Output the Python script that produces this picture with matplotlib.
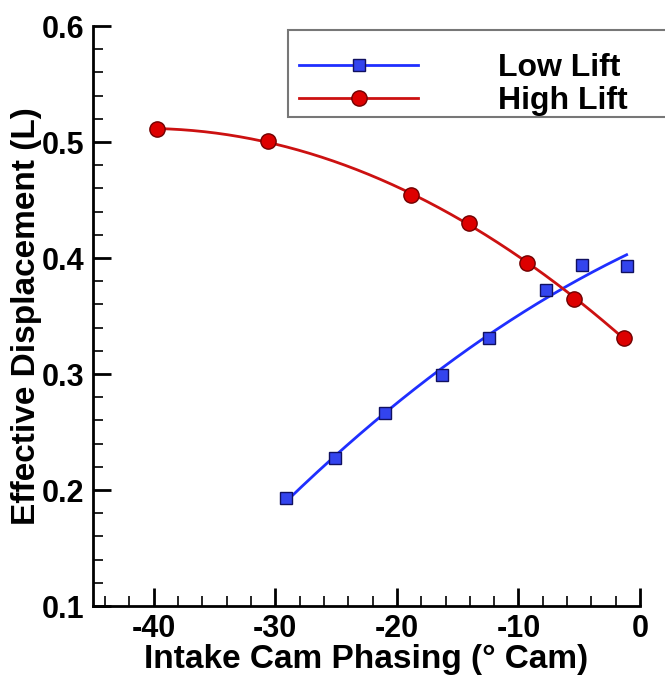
import numpy as np
import matplotlib.pyplot as plt
from matplotlib.ticker import MultipleLocator
from matplotlib.patches import Rectangle

plt.rcParams['font.family'] = ['Liberation Sans', 'DejaVu Sans']
plt.rcParams['font.weight'] = 'bold'

# Data
low_x = [-29.1, -25.1, -21.0, -16.3, -12.4, -7.7, -4.8, -1.1]
low_y = [0.193, 0.228, 0.266, 0.299, 0.331, 0.372, 0.394, 0.393]
high_x = [-39.7, -30.6, -18.8, -14.1, -9.3, -5.4, -1.3]
high_y = [0.511, 0.501, 0.454, 0.430, 0.396, 0.365, 0.331]

# quadratic trend lines through each series
low_fit = np.polyfit(low_x, low_y, 2)
high_fit = np.polyfit(high_x, high_y, 2)
low_xs = np.linspace(min(low_x), max(low_x), 200)
high_xs = np.linspace(min(high_x), max(high_x), 200)

fig = plt.figure(figsize=(6.65, 6.77), dpi=100)
ax = fig.add_axes([93 / 665, 1 - 606 / 677, (640 - 93) / 665, (606 - 26) / 677])

blue = '#1f2fff'
red = '#cc1111'
ax.plot(low_xs, np.polyval(low_fit, low_xs), color=blue, lw=2, zorder=2)
ax.plot(low_x, low_y, 's', ms=8, mfc='#3344ee', mec='#101060', mew=1, zorder=3)
ax.plot(high_xs, np.polyval(high_fit, high_xs), color=red, lw=2, zorder=2)
ax.plot(high_x, high_y, 'o', ms=11, mfc='#dd0000', mec='#700000', mew=1, zorder=3)

ax.set_xlim(-45, 0)
ax.set_ylim(0.1, 0.6)
ax.xaxis.set_minor_locator(MultipleLocator(2))
ax.yaxis.set_minor_locator(MultipleLocator(0.02))
ax.set_xticks([-40, -30, -20, -10, 0])
ax.set_xticklabels(['-40', '-30', '-20', '-10', '0'])
ax.set_yticks([0.1, 0.2, 0.3, 0.4, 0.5, 0.6])
ax.set_yticklabels(['0.1', '0.2', '0.3', '0.4', '0.5', '0.6'])

for side in ['top', 'right']:
    ax.spines[side].set_visible(False)
for side in ['left', 'bottom']:
    ax.spines[side].set_linewidth(2)

ax.tick_params(which='major', direction='in', length=13, width=2, labelsize=22, pad=6)
ax.tick_params(which='minor', direction='in', length=7, width=1.2)

ax.set_xlabel('Intake Cam Phasing (° Cam)', fontsize=24, fontweight='bold', labelpad=0)
ax.set_ylabel('Effective Displacement (L)', fontsize=24, fontweight='bold', labelpad=0)

# legend: frameless, with a box drawn behind it
h1, = ax.plot([], [], color=blue, lw=2, marker='s', ms=8, mfc='#3344ee', mec='#101060')
h2, = ax.plot([], [], color=red, lw=2, marker='o', ms=11, mfc='#dd0000', mec='#700000')
fig.patches.append(Rectangle((288 / 665, 1 - 117 / 677), 0.6, 87 / 677,
                             transform=fig.transFigure, facecolor='white',
                             edgecolor='#777777', linewidth=1.5, zorder=5))
leg = fig.legend([h1, h2], ['Low Lift', 'High Lift'], loc='upper left',
                 bbox_to_anchor=(288 / 665, 1 - 42 / 677), borderaxespad=0,
                 fontsize=23, handlelength=3.73, handletextpad=2.49,
                 borderpad=0.35, labelspacing=0.1, frameon=False)
leg.set_zorder(6)

fig.savefig('out.png', dpi=100)
